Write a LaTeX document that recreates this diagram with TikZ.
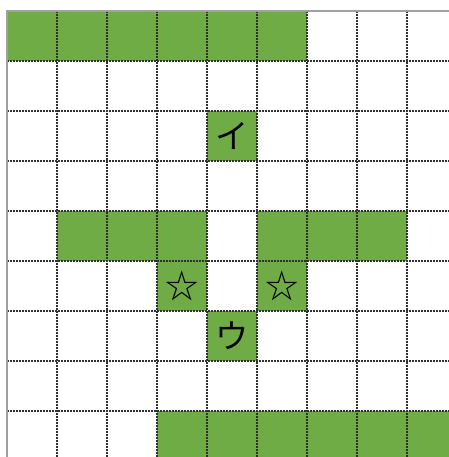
\documentclass[tikz,border=0pt]{standalone}
\usepackage{fontspec}
\newfontfamily\cjk{Noto Sans CJK JP}
\definecolor{cellgreen}{HTML}{6FAC46}
\definecolor{bordergray}{HTML}{A0A0A0}
\definecolor{gridcol}{HTML}{303030}
\tikzset{
  cell/.style={fill=cellgreen},
  gridline/.style={draw=gridcol, line width=1.2pt, dash pattern=on 1.2pt off 1.05pt},
  borderline/.style={draw=bordergray, line width=1.6pt},
  glyph/.style={font=\cjk\fontsize{25}{25}\selectfont, inner sep=0pt}
}
\begin{document}
\begin{tikzpicture}[x=0.75pt,y=-0.75pt]
\useasboundingbox (0,0) rectangle (449,457);
% green cells
\fill[cell] (7,11) rectangle (307,61);
\fill[cell] (207,111) rectangle (257,161);
\fill[cell] (57,211) rectangle (207,261);
\fill[cell] (257,211) rectangle (407,261);
\fill[cell] (157,261) rectangle (207,311);
\fill[cell] (257,261) rectangle (307,311);
\fill[cell] (207,311) rectangle (257,361);
\fill[cell] (157,411) rectangle (449,457);
% dotted grid
\foreach \x in {57,107,...,407} \draw[gridline] (\x,11) -- (\x,457);
\foreach \y in {61,111,...,411} \draw[gridline] (7,\y) -- (449,\y);
% border
\draw[borderline] (449,11) -- (7,11) -- (7,457);
% labels
\node[glyph] (i) at (232,136) {イ};
\node[glyph] (u) at (232,336) {ウ};
\node[glyph] (s1) at (182,286) {☆};
\node[glyph] (s2) at (282,286) {☆};
\end{tikzpicture}
\end{document}
